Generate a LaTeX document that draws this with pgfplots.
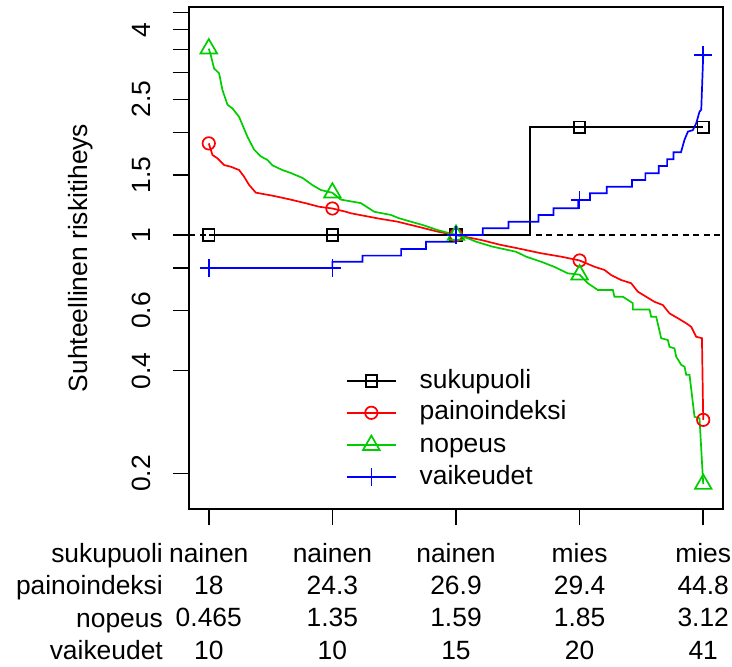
\documentclass[border=0pt]{standalone}
\usepackage{pgfplots}
\pgfplotsset{compat=1.18}
\usepackage{fontspec}
\setmainfont{Liberation Sans}
\definecolor{rred}{HTML}{FF0000}
\definecolor{rgreen}{HTML}{00CD00}
\definecolor{rblue}{HTML}{0000FF}

\begin{document}
\begin{tikzpicture}[font=\fontsize{26.5}{32.6}\selectfont]
\path[use as bounding box] (-189bp,-158bp) rectangle (543bp,509bp);
\begin{axis}[
  name=ax,
  at={(0,0)}, anchor=south west,
  scale only axis, width=534bp, height=502bp,
  xmin=-0.04, xmax=1.04,
  ymode=log, ymin=0.1572, ymax=4.663,
  axis line style={line width=1.5bp},
  tick align=outside, major tick length=16.5bp,
  every tick/.style={black, line width=1.5bp},
  xtick pos=left, ytick pos=left,
  minor tick num=0, yminorticks=false,
  xtick={0,0.25,0.5,0.75,1},
  xticklabels={{nainen\\18\\0.465\\10},{nainen\\24.3\\1.35\\10},{nainen\\26.9\\1.59\\15},{mies\\29.4\\1.85\\20},{mies\\44.8\\3.12\\41}},
  xticklabel style={align=center, anchor=base, inner sep=0pt},
  xticklabel shift=134bp,
  ytick={0.2,0.4,0.6,0.8,1,1.5,2,2.5,3,3.5,4,4.5},
  yticklabels={0.2,0.4,0.6,,1,1.5,,2.5,,,4,},
  yticklabel style={rotate=90, anchor=south, inner sep=0pt},
  yticklabel shift=22bp,
  legend cell align=left,
  legend style={draw=none, fill=none, inner sep=0pt, outer sep=0pt,
    at={(0.294,0.2729)}, anchor=north west, row sep=13.8bp, column sep=23bp,
    nodes={inner sep=0pt, text height=16bp, text depth=2bp}},
  legend image code/.code={\draw[#1, mark repeat=2, mark phase=2] plot coordinates {(0bp,0bp) (24.5bp,0bp) (49bp,0bp)};},
  every axis plot/.append style={line width=1.7bp},
]
% reference level
\addplot[black, dash pattern=on 6bp off 4.5bp, forget plot] coordinates {(-0.04,1) (1.04,1)};

% sukupuoli
\addplot[black, forget plot] coordinates {(0,1) (0.65,1) (0.65,2.07) (1,2.07)};
\addplot[black, only marks, mark=square, mark size=5.7bp, forget plot] coordinates {(0,1) (0.25,1) (0.5,1) (0.75,2.07) (1,2.07)};

% painoindeksi
\addplot[rred, forget plot] coordinates {
(0,1.857)(0.0075,1.716)(0.0176,1.679)(0.031,1.604)(0.0445,1.586)(0.0613,1.551)(0.0715,1.482)(0.0816,1.402)(0.0951,1.331)(0.129,1.304)(0.1626,1.273)(0.1964,1.239)(0.2233,1.21)(0.25,1.196)(0.2773,1.17)(0.2874,1.158)(0.3415,1.119)(0.382,1.094)(0.4225,1.058)(0.4629,1.023)(0.5,1)(0.5506,0.967)(0.5911,0.935)(0.6249,0.914)(0.6721,0.884)(0.7126,0.864)(0.75,0.842)(0.78,0.807)(0.8002,0.79)(0.8138,0.763)(0.834,0.738)(0.8543,0.722)(0.8678,0.682)(0.8846,0.659)(0.9014,0.637)(0.9184,0.623)(0.9318,0.589)(0.9488,0.57)(0.9656,0.551)(0.9757,0.538)(0.9858,0.503)(0.9974,0.498)(1,0.287)};
\addplot[rred, only marks, mark=o, mark size=6.2bp, forget plot] coordinates {(0,1.857) (0.25,1.196) (0.5,1) (0.75,0.842) (1,0.287)};

% nopeus
\addplot[rgreen, forget plot] coordinates {
(0,3.52)(0.004,3.37)(0.0107,3.08)(0.0209,2.98)(0.0277,2.66)(0.0379,2.41)(0.048,2.35)(0.0613,2.22)(0.0783,1.94)(0.0917,1.78)(0.1053,1.70)(0.1188,1.66)(0.129,1.60)(0.1492,1.55)(0.166,1.52)(0.1897,1.47)(0.2099,1.40)(0.2267,1.355)(0.25,1.33)(0.2672,1.27)(0.3077,1.24)(0.3346,1.17)(0.3684,1.145)(0.3846,1.12)(0.4089,1.094)(0.4326,1.07)(0.4629,1.034)(0.5,1)(0.5237,0.978)(0.5405,0.956)(0.5743,0.924)(0.6215,0.893)(0.6417,0.864)(0.6721,0.835)(0.6984,0.807)(0.7261,0.772)(0.75,0.765)(0.7666,0.722)(0.7868,0.69)(0.8172,0.69)(0.8205,0.659)(0.8374,0.659)(0.8577,0.631)(0.8577,0.605)(0.8913,0.605)(0.8947,0.576)(0.9049,0.576)(0.915,0.498)(0.9285,0.492)(0.9318,0.47)(0.9419,0.465)(0.9453,0.44)(0.9555,0.416)(0.9622,0.411)(0.9656,0.389)(0.9723,0.389)(0.9824,0.293)(0.9925,0.29)(1,0.186)};
\addplot[rgreen, only marks, mark=triangle, mark size=9.6bp, forget plot] coordinates {(0,3.52) (0.25,1.33) (0.5,1) (0.75,0.765) (1,0.186)};

% vaikeudet
\addplot[rblue, forget plot] coordinates {
(0,0.80)(0.25,0.80)(0.25,0.835)(0.311,0.835)(0.311,0.870)(0.389,0.870)(0.389,0.910)(0.4393,0.910)(0.4393,0.956)(0.5,0.956)(0.5,1)(0.554,1)(0.554,1.046)(0.606,1.046)(0.606,1.094)(0.667,1.094)(0.667,1.145)(0.697,1.145)(0.697,1.198)(0.747,1.198)(0.747,1.267)(0.771,1.267)(0.771,1.325)(0.805,1.325)(0.805,1.385)(0.856,1.385)(0.856,1.45)(0.883,1.45)(0.883,1.517)(0.91,1.517)(0.91,1.594)(0.927,1.594)(0.927,1.667)(0.94,1.667)(0.94,1.748)(0.955,1.748)(0.962,1.90)(0.969,2.01)(0.979,2.03)(0.986,2.13)(0.9925,2.30)(0.996,2.33)(1,3.37)};
\addplot[rblue, only marks, mark=+, mark size=8.8bp, forget plot] coordinates {(0,0.80) (0.25,0.80) (0.5,1) (0.75,1.267) (1,3.37)};

\addlegendimage{black, line width=1.7bp, mark=square, mark size=5.7bp}
\addlegendentry{sukupuoli}
\addlegendimage{rred, line width=1.7bp, mark=o, mark size=6.2bp}
\addlegendentry{painoindeksi}
\addlegendimage{rgreen, line width=1.7bp, mark=triangle, mark size=9.6bp}
\addlegendentry{nopeus}
\addlegendimage{rblue, line width=1.7bp, mark=+, mark size=8.8bp}
\addlegendentry{vaikeudet}
\end{axis}

% axis title and row names of the quantile table
\node[rotate=90, anchor=base] at ([xshift=-101.5bp]ax.west) {Suhteellinen riskitiheys};
\node[anchor=base east, align=right, inner sep=0pt] at ([xshift=-26bp, yshift=-150.5bp]ax.south west)
  {sukupuoli\\painoindeksi\\nopeus\\vaikeudet};
\end{tikzpicture}
\end{document}
